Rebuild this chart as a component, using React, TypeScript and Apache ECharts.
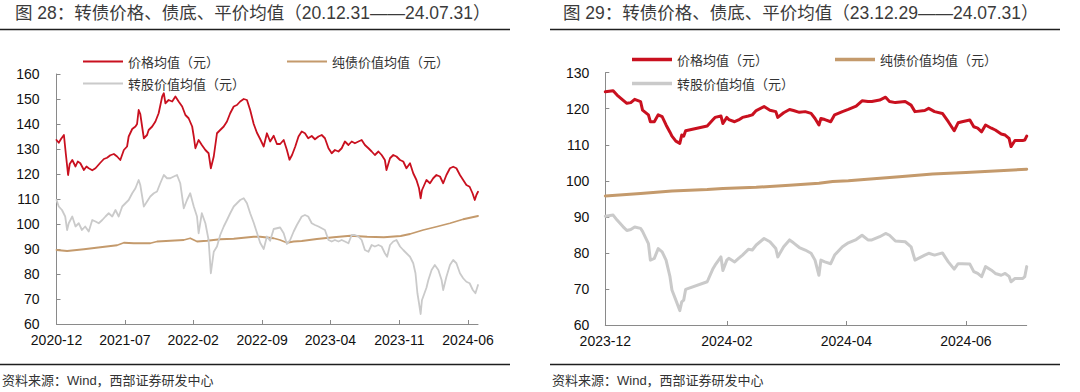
import React, { useEffect, useRef } from 'react';
import * as echarts from 'echarts';

// ---------------- data ----------------
const SERIES_NAMES = ['价格均值（元）', '纯债价值均值（元）', '转股价值均值（元）'];

const LEFT_TITLE = '图 28：转债价格、债底、平价均值（20.12.31——24.07.31）';
const RIGHT_TITLE = '图 29：转债价格、债底、平价均值（23.12.29——24.07.31）';
const SOURCE = '资料来源：Wind，西部证券研发中心';

const LEFT_RANGE = ['2020-12-31', '2024-07-31'];
const LEFT_TICKS = ['2020-12-31', '2021-07-31', '2022-02-28', '2022-09-30', '2023-04-30', '2023-11-30', '2024-06-30'];
const LEFT_Y = [60, 160, 10];

const RIGHT_RANGE = ['2023-12-29', '2024-07-31'];
const RIGHT_TICKS = ['2023-12-29', '2024-02-29', '2024-04-30', '2024-06-30'];
const RIGHT_Y = [60, 130, 10];

const leftPrice: [string, number][] = [
  ['2020-12-31', 133.6], ['2021-01-07', 132.5], ['2021-01-14', 134.0], ['2021-01-23', 135.6], ['2021-01-29', 128.0],
  ['2021-02-05', 119.6], ['2021-02-10', 124.0], ['2021-02-18', 125.6], ['2021-02-28', 123.0], ['2021-03-07', 125.0],
  ['2021-03-15', 124.3], ['2021-03-26', 121.6], ['2021-04-03', 123.0], ['2021-04-10', 122.3], ['2021-04-21', 121.5],
  ['2021-05-01', 122.3], ['2021-05-16', 124.5], ['2021-05-27', 126.0], ['2021-06-06', 126.5], ['2021-06-16', 127.5],
  ['2021-06-27', 128.0], ['2021-07-07', 127.0], ['2021-07-17', 125.6], ['2021-07-28', 129.6], ['2021-08-07', 131.0],
  ['2021-08-12', 135.0], ['2021-08-23', 138.0], ['2021-09-02', 139.0], ['2021-09-07', 140.0], ['2021-09-12', 145.6],
  ['2021-09-17', 144.0], ['2021-09-28', 134.3], ['2021-10-08', 135.6], ['2021-10-13', 137.6], ['2021-10-24', 139.0],
  ['2021-11-03', 141.0], ['2021-11-13', 144.3], ['2021-11-24', 151.0], ['2021-11-29', 152.3], ['2021-12-04', 148.3],
  ['2021-12-14', 149.6], ['2021-12-25', 149.0], ['2022-01-04', 151.0], ['2022-01-14', 149.0], ['2022-01-25', 147.0],
  ['2022-02-04', 143.6], ['2022-02-14', 142.3], ['2022-02-25', 139.0], ['2022-03-02', 135.0], ['2022-03-07', 130.3],
  ['2022-03-17', 133.6], ['2022-03-27', 131.6], ['2022-04-07', 129.6], ['2022-04-17', 128.3], ['2022-04-24', 122.3],
  ['2022-05-03', 127.0], ['2022-05-13', 136.3], ['2022-05-23', 137.6], ['2022-06-03', 139.0], ['2022-06-13', 141.0],
  ['2022-06-23', 144.3], ['2022-07-04', 147.0], ['2022-07-14', 147.6], ['2022-07-24', 149.0], ['2022-08-04', 150.0],
  ['2022-08-14', 149.6], ['2022-08-24', 145.6], ['2022-09-04', 140.0], ['2022-09-14', 136.5], ['2022-09-24', 134.0],
  ['2022-10-05', 131.0], ['2022-10-15', 136.3], ['2022-10-25', 133.0], ['2022-11-05', 135.3], ['2022-11-15', 132.0],
  ['2022-11-25', 132.0], ['2022-12-06', 133.6], ['2022-12-16', 129.6], ['2022-12-24', 125.7], ['2023-01-01', 127.6],
  ['2023-01-11', 131.0], ['2023-01-21', 135.0], ['2023-01-31', 137.0], ['2023-02-10', 136.3], ['2023-02-20', 134.3],
  ['2023-03-03', 135.2], ['2023-03-13', 133.9], ['2023-03-24', 135.0], ['2023-04-03', 135.6], ['2023-04-13', 134.3],
  ['2023-04-24', 130.3], ['2023-05-04', 128.3], ['2023-05-14', 129.6], ['2023-05-25', 129.0], ['2023-06-04', 130.3],
  ['2023-06-14', 133.0], ['2023-06-25', 131.6], ['2023-07-05', 133.0], ['2023-07-15', 132.3], ['2023-07-26', 133.0],
  ['2023-08-05', 133.6], ['2023-08-15', 131.6], ['2023-08-26', 130.3], ['2023-09-05', 129.0], ['2023-09-15', 127.6],
  ['2023-09-26', 129.0], ['2023-10-06', 127.6], ['2023-10-16', 125.6], ['2023-10-21', 121.6], ['2023-11-01', 126.3],
  ['2023-11-11', 127.6], ['2023-11-21', 127.0], ['2023-12-02', 125.6], ['2023-12-12', 125.0], ['2023-12-22', 122.3],
  ['2024-01-02', 124.3], ['2024-01-12', 120.3], ['2024-01-22', 117.6], ['2024-01-30', 114.3], ['2024-02-04', 110.3],
  ['2024-02-08', 113.5], ['2024-02-22', 117.6], ['2024-03-04', 116.3], ['2024-03-14', 118.3], ['2024-03-24', 119.6],
  ['2024-04-04', 119.0], ['2024-04-14', 116.3], ['2024-04-24', 119.6], ['2024-05-05', 122.3], ['2024-05-15', 122.9],
  ['2024-05-25', 122.3], ['2024-06-05', 119.6], ['2024-06-15', 117.6], ['2024-06-25', 115.6], ['2024-07-05', 114.9],
  ['2024-07-14', 112.3], ['2024-07-21', 109.6], ['2024-07-26', 111.6], ['2024-07-31', 112.9],
];

const leftBond: [string, number][] = [
  ['2020-12-31', 89.6], ['2021-02-02', 89.2], ['2021-03-26', 89.9], ['2021-05-16', 90.7], ['2021-07-07', 91.5],
  ['2021-07-28', 92.5], ['2021-08-28', 92.3], ['2021-10-18', 92.3], ['2021-11-08', 93.0], ['2022-01-30', 93.6],
  ['2022-02-19', 94.3], ['2022-03-12', 93.0], ['2022-04-12', 93.3], ['2022-05-23', 93.9], ['2022-07-04', 94.1],
  ['2022-09-04', 94.9], ['2022-09-24', 94.9], ['2022-11-05', 94.3], ['2022-11-25', 93.6], ['2022-12-16', 92.5],
  ['2023-01-06', 93.0], ['2023-01-31', 93.2], ['2023-03-19', 94.0], ['2023-05-10', 94.7], ['2023-07-01', 95.3],
  ['2023-08-22', 94.9], ['2023-10-13', 94.7], ['2023-12-04', 95.2], ['2024-01-02', 96.0], ['2024-02-12', 97.6],
  ['2024-03-24', 98.9], ['2024-05-05', 100.3], ['2024-06-15', 101.9], ['2024-07-31', 103.2],
];

const leftStock: [string, number][] = [
  ['2020-12-31', 109.6], ['2021-01-07', 107.0], ['2021-01-17', 105.6], ['2021-01-27', 103.0], ['2021-02-02', 97.6],
  ['2021-02-07', 100.3], ['2021-02-18', 103.0], ['2021-02-28', 99.0], ['2021-03-10', 100.3], ['2021-03-20', 97.6],
  ['2021-03-30', 99.0], ['2021-04-10', 97.0], ['2021-04-21', 101.6], ['2021-05-01', 101.0], ['2021-05-11', 100.3],
  ['2021-05-22', 101.6], ['2021-06-01', 103.0], ['2021-06-11', 104.3], ['2021-06-22', 103.0], ['2021-07-02', 105.6],
  ['2021-07-12', 103.0], ['2021-07-23', 107.0], ['2021-08-02', 108.3], ['2021-08-12', 109.6], ['2021-08-23', 112.3],
  ['2021-09-02', 114.3], ['2021-09-12', 117.6], ['2021-09-17', 115.6], ['2021-09-28', 107.0], ['2021-10-08', 109.0],
  ['2021-10-18', 111.0], ['2021-10-29', 112.3], ['2021-11-08', 113.0], ['2021-11-18', 116.3], ['2021-11-29', 119.6],
  ['2021-12-09', 118.3], ['2021-12-19', 118.3], ['2021-12-30', 119.0], ['2022-01-09', 119.6], ['2022-01-19', 116.3],
  ['2022-01-30', 106.3], ['2022-02-09', 109.6], ['2022-02-19', 112.3], ['2022-03-02', 107.0], ['2022-03-12', 103.0],
  ['2022-03-17', 96.3], ['2022-03-27', 104.3], ['2022-04-07', 100.3], ['2022-04-17', 93.6], ['2022-04-24', 80.3],
  ['2022-05-03', 88.9], ['2022-05-13', 91.0], ['2022-05-23', 95.6], ['2022-06-03', 99.0], ['2022-06-13', 101.6],
  ['2022-06-23', 104.3], ['2022-07-04', 107.0], ['2022-07-14', 108.3], ['2022-07-24', 109.6], ['2022-08-04', 110.3],
  ['2022-08-14', 108.3], ['2022-08-24', 104.3], ['2022-09-04', 100.5], ['2022-09-14', 96.5], ['2022-09-24', 92.5],
  ['2022-10-05', 90.0], ['2022-10-15', 95.0], ['2022-10-25', 93.3], ['2022-11-05', 98.0], ['2022-11-15', 98.3],
  ['2022-11-25', 98.6], ['2022-12-06', 96.3], ['2022-12-16', 92.0], ['2022-12-26', 93.6], ['2023-01-06', 97.0],
  ['2023-01-16', 99.6], ['2023-01-31', 103.0], ['2023-02-10', 103.6], ['2023-02-20', 103.0], ['2023-03-03', 100.3],
  ['2023-03-13', 99.6], ['2023-03-24', 99.0], ['2023-04-03', 98.3], ['2023-04-13', 97.6], ['2023-04-24', 93.6],
  ['2023-05-04', 93.0], ['2023-05-14', 93.6], ['2023-05-25', 93.0], ['2023-06-04', 93.6], ['2023-06-14', 93.0],
  ['2023-06-25', 92.3], ['2023-07-05', 95.6], ['2023-07-15', 95.6], ['2023-07-26', 95.0], ['2023-08-05', 93.6],
  ['2023-08-15', 89.6], ['2023-08-26', 88.9], ['2023-09-05', 91.6], ['2023-09-15', 91.0], ['2023-09-26', 91.6],
  ['2023-10-06', 91.0], ['2023-10-16', 88.3], ['2023-10-23', 86.9], ['2023-11-01', 91.6], ['2023-11-11', 93.0],
  ['2023-11-21', 93.6], ['2023-12-02', 91.0], ['2023-12-12', 89.6], ['2023-12-22', 88.3], ['2024-01-02', 86.9],
  ['2024-01-12', 84.3], ['2024-01-19', 80.3], ['2024-01-25', 72.3], ['2024-01-30', 68.3], ['2024-02-04', 64.0],
  ['2024-02-08', 69.5], ['2024-02-22', 74.5], ['2024-02-28', 77.6], ['2024-03-09', 81.6], ['2024-03-19', 83.6],
  ['2024-03-30', 81.6], ['2024-04-09', 77.6], ['2024-04-14', 73.6], ['2024-04-24', 78.9], ['2024-05-05', 83.6],
  ['2024-05-15', 85.6], ['2024-05-25', 84.3], ['2024-06-05', 80.3], ['2024-06-15', 78.3], ['2024-06-25', 76.9],
  ['2024-07-05', 76.3], ['2024-07-15', 73.6], ['2024-07-23', 72.3], ['2024-07-31', 75.6],
];

const rightDates = [
  '2023-12-29', '2024-01-02', '2024-01-04', '2024-01-07', '2024-01-09', '2024-01-11', '2024-01-13', '2024-01-16',
  '2024-01-17', '2024-01-20', '2024-01-21', '2024-01-23', '2024-01-25', '2024-01-27', '2024-01-29', '2024-01-31',
  '2024-02-01', '2024-02-03', '2024-02-05', '2024-02-06', '2024-02-07', '2024-02-08', '2024-02-19', '2024-02-22',
  '2024-02-23', '2024-02-26', '2024-02-27', '2024-02-29', '2024-03-01', '2024-03-04', '2024-03-06', '2024-03-08',
  '2024-03-11', '2024-03-13', '2024-03-15', '2024-03-19', '2024-03-22', '2024-03-25', '2024-03-26', '2024-03-29',
  '2024-04-01', '2024-04-03', '2024-04-06', '2024-04-09', '2024-04-12', '2024-04-14', '2024-04-16', '2024-04-17',
  '2024-04-19', '2024-04-22', '2024-04-24', '2024-04-28', '2024-05-01', '2024-05-05', '2024-05-08', '2024-05-11',
  '2024-05-13', '2024-05-17', '2024-05-20', '2024-05-22', '2024-05-25', '2024-05-30', '2024-06-02', '2024-06-04',
  '2024-06-09', '2024-06-11', '2024-06-14', '2024-06-18', '2024-06-21', '2024-06-24', '2024-06-26', '2024-06-28',
  '2024-07-02', '2024-07-04', '2024-07-06', '2024-07-08', '2024-07-10', '2024-07-13', '2024-07-15', '2024-07-18',
  '2024-07-20', '2024-07-22', '2024-07-23', '2024-07-25', '2024-07-29', '2024-07-30', '2024-07-31',
];
const rightPrice = [
  124.7, 125.0, 123.8, 122.4, 121.5, 121.7, 122.6, 122.0,
  119.6, 118.3, 116.4, 116.4, 118.3, 117.8, 115.5, 113.5,
  112.4, 111.0, 110.4, 112.7, 112.4, 113.9, 115.2, 117.0,
  117.6, 118.0, 115.9, 117.6, 117.0, 116.4, 116.9, 117.6,
  118.0, 118.3, 119.5, 120.6, 119.6, 119.2, 117.6, 118.9,
  119.8, 119.5, 119.0, 119.2, 118.7, 117.3, 115.5, 117.3,
  117.0, 116.4, 118.3, 119.2, 119.8, 120.7, 122.2, 122.0,
  122.0, 122.4, 123.2, 122.0, 121.7, 122.0, 121.0, 119.2,
  119.5, 120.1, 119.2, 118.7, 116.4, 113.9, 116.1, 116.4,
  116.9, 115.0, 114.6, 113.6, 115.5, 114.6, 114.1, 113.0,
  112.7, 111.8, 109.5, 111.2, 111.2, 111.3, 112.4,
];
const rightStock = [
  90.2, 90.5, 89.1, 87.3, 86.2, 86.5, 87.2, 86.8,
  86.0, 82.6, 78.0, 78.5, 81.2, 80.3, 78.0, 73.4,
  69.7, 66.9, 64.0, 66.4, 66.9, 69.9, 72.0, 75.7,
  76.6, 78.9, 75.1, 78.0, 78.5, 77.5, 78.5, 79.4,
  81.0, 80.8, 82.2, 84.0, 83.1, 81.2, 78.9, 81.7,
  83.6, 82.8, 81.5, 80.8, 79.9, 78.0, 73.8, 78.0,
  77.5, 77.0, 79.4, 81.7, 82.8, 83.7, 84.9, 83.6,
  83.6, 84.5, 85.4, 84.9, 83.3, 83.1, 81.7, 78.0,
  79.4, 79.9, 79.4, 80.0, 77.5, 75.5, 77.0, 77.0,
  76.9, 74.8, 74.3, 73.4, 76.2, 75.2, 74.3, 73.8,
  74.3, 73.5, 72.0, 72.9, 72.9, 73.4, 76.2,
];
const rightBond: [string, number][] = [
  ['2023-12-29', 95.8], ['2024-01-16', 96.5], ['2024-02-01', 97.2], ['2024-02-19', 97.6], ['2024-02-27', 97.9],
  ['2024-03-15', 98.2], ['2024-04-01', 98.8], ['2024-04-16', 99.3], ['2024-04-23', 99.8], ['2024-05-01', 100.0],
  ['2024-05-09', 100.4], ['2024-05-27', 101.1], ['2024-06-13', 101.9], ['2024-06-30', 102.3], ['2024-07-17', 102.8],
  ['2024-07-31', 103.2],
];

// ---------------- styling ----------------
const COLORS = ['#C9101F', '#C49A6C', '#CACACA'];
const FONT_NUM = "'Liberation Sans', Arial, 'Noto Sans CJK SC', sans-serif";
const FONT_CJK = "'Noto Sans CJK SC', 'Liberation Sans', sans-serif";

function ts(s: string): number {
  const [y, m, d] = s.split('-').map(Number);
  return Date.UTC(y, m - 1, d);
}

type Cfg = {
  title: string; titleX: number; ruleX1: number; ruleX2: number; sourceX: number;
  grid: { left: number; top: number; width: number; height: number };
  range: string[]; ticks: string[]; y: number[];
  legendPos: { left: number; top: number }[]; iconH: number; lineW: number;
  yMargin: number;
  series: [number, number][][];
};

function buildOption(c: Cfg) {
  const tickVals = c.ticks.map(ts);
  const axisColor = '#8a8a8a';
  return {
    animation: false,
    backgroundColor: '#ffffff',
    graphic: [
      { type: 'text', x: c.titleX, y: 13, style: { text: c.title, fontSize: 17.5, fontFamily: FONT_NUM, fill: '#3b3b3b', align: 'left', verticalAlign: 'middle' } },
      { type: 'line', shape: { x1: c.ruleX1, y1: 29.5, x2: c.ruleX2, y2: 29.5 }, style: { stroke: '#1e1e1e', lineWidth: 1.6 } },
      { type: 'line', shape: { x1: c.ruleX1, y1: 364.5, x2: c.ruleX2, y2: 364.5 }, style: { stroke: '#1e1e1e', lineWidth: 1.6 } },
      { type: 'text', x: c.sourceX, y: 380.5, style: { text: SOURCE, fontSize: 13, fontFamily: FONT_NUM, fill: '#333333', align: 'left', verticalAlign: 'middle' } },
    ],
    legend: [0, 1, 2].map((i) => ({
      data: [SERIES_NAMES[i]],
      left: c.legendPos[i].left,
      top: c.legendPos[i].top,
      padding: 0,
      icon: 'rect',
      itemWidth: 40,
      itemHeight: c.iconH,
      itemStyle: { borderWidth: 0 },
      selectedMode: false,
      textStyle: { fontSize: 13, fontFamily: FONT_CJK, color: '#333333' },
    })),
    grid: { ...c.grid, containLabel: false },
    xAxis: {
      type: 'value',
      min: ts(c.range[0]),
      max: ts(c.range[1]),
      axisLine: { show: true, lineStyle: { color: axisColor, width: 1 } },
      axisTick: { show: true, inside: true, length: 4, customValues: tickVals, lineStyle: { color: axisColor, width: 1 } },
      axisLabel: {
        customValues: tickVals,
        margin: 9,
        fontSize: 14,
        fontFamily: FONT_NUM,
        color: '#111111',
        formatter: (v: number) => {
          let best = 0;
          tickVals.forEach((t, i) => { if (Math.abs(t - v) < Math.abs(tickVals[best] - v)) best = i; });
          return c.ticks[best].slice(0, 7);
        },
      },
      splitLine: { show: false },
    },
    yAxis: {
      type: 'value',
      min: c.y[0],
      max: c.y[1],
      interval: c.y[2],
      axisLine: { show: true, lineStyle: { color: axisColor, width: 1 } },
      axisTick: { show: true, inside: true, length: 4, lineStyle: { color: axisColor, width: 1 } },
      axisLabel: { margin: c.yMargin, fontSize: 14, fontFamily: FONT_NUM, color: '#111111' },
      splitLine: { show: false },
    },
    series: [0, 1, 2].map((i) => ({
      name: SERIES_NAMES[i],
      type: 'line',
      showSymbol: false,
      symbol: 'none',
      color: COLORS[i],
      lineStyle: { color: COLORS[i], width: c.lineW, join: 'round', cap: 'round' },
      data: c.series[i],
      z: 2 + i,
    })),
  };
}

const toPairs = (arr: [string, number][]) => arr.map(([d, v]) => [ts(d), v] as [number, number]);

const leftCfg: Cfg = {
  title: LEFT_TITLE, titleX: 15, ruleX1: 0, ruleX2: 510, sourceX: 2,
  grid: { left: 56.5, top: 74, width: 421.5, height: 250 },
  range: LEFT_RANGE, ticks: LEFT_TICKS, y: LEFT_Y,
  legendPos: [{ left: 83, top: 55 }, { left: 287, top: 55 }, { left: 83, top: 77 }],
  iconH: 2, lineW: 1.8, yMargin: 17,
  series: [toPairs(leftPrice), toPairs(leftBond), toPairs(leftStock)],
};

const rightCfg: Cfg = {
  title: RIGHT_TITLE, titleX: 23, ruleX1: 10, ruleX2: 520, sourceX: 12,
  grid: { left: 65.3, top: 72.7, width: 421.4, height: 252.3 },
  range: RIGHT_RANGE, ticks: RIGHT_TICKS, y: RIGHT_Y,
  legendPos: [{ left: 92, top: 53 }, { left: 295, top: 53 }, { left: 92, top: 77 }],
  iconH: 3.5, lineW: 3, yMargin: 16,
  series: [
    rightDates.map((d, i) => [ts(d), rightPrice[i]] as [number, number]),
    toPairs(rightBond),
    rightDates.map((d, i) => [ts(d), rightStock[i]] as [number, number]),
  ],
};

function Chart({ cfg, left }: { cfg: Cfg; left: number }) {
  const ref = useRef<HTMLDivElement>(null);
  useEffect(() => {
    if (!ref.current) return;
    const chart = echarts.init(ref.current, null, { renderer: 'svg' });
    chart.setOption(buildOption(cfg) as any);
    return () => chart.dispose();
  }, []);
  return <div ref={ref} style={{ position: 'absolute', left, top: 0, width: 540, height: 392 }} />;
}

export default function App() {
  return (
    <div style={{ position: 'fixed', left: 0, top: 0, width: 1080, height: 392, background: '#fff', overflow: 'hidden' }}>
      <Chart cfg={leftCfg} left={0} />
      <Chart cfg={rightCfg} left={540} />
    </div>
  );
}
